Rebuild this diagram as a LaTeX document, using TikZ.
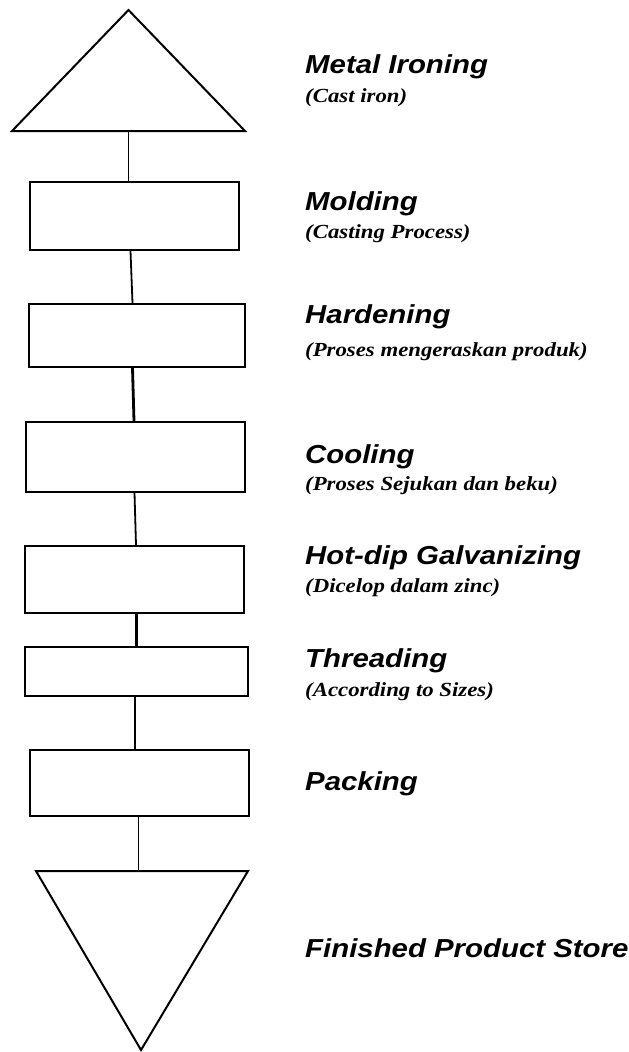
\documentclass[tikz,border=0pt]{standalone}
\usepackage{fontspec}
\setmainfont{Liberation Serif}
\newfontfamily\namefont[FakeStretch=1.13]{Liberation Sans}
\newfontfamily\notefont[FakeStretch=1.14]{Liberation Serif}
\usetikzlibrary{positioning}

\tikzset{
  stepbox/.style={draw, line width=2pt, inner sep=0pt},
  link/.style={line width=1.8pt},
  heavylink/.style={line width=2.8pt},
  stepname/.style={anchor=base west, inner sep=0pt, font=\namefont\bfseries\itshape\fontsize{26}{29}\selectfont},
  stepnote/.style={anchor=base west, inner sep=0pt, font=\notefont\bfseries\itshape\fontsize{20}{23}\selectfont}
}

\begin{document}
\begin{tikzpicture}[x=1pt,y=-1pt]
  \useasboundingbox (0,0) rectangle (629,1052);

  % raw material store (triangle up)
  \draw[line width=2pt] (12,131) -- (128.5,10) -- (245,131) -- cycle;
  \coordinate (iron) at (128.5,131);

  % process boxes
  \node[stepbox, minimum width=209pt, minimum height=68pt] (molding)   at (134.5,216) {};
  \node[stepbox, minimum width=216pt, minimum height=63pt] (hardening) at (137,335.5) {};
  \node[stepbox, minimum width=219pt, minimum height=70pt] (cooling)   at (135.5,457) {};
  \node[stepbox, minimum width=219pt, minimum height=67pt] (galv)      at (134.5,579.5) {};
  \node[stepbox, minimum width=223pt, minimum height=49pt] (threading) at (136.5,671.5) {};
  \node[stepbox, minimum width=219pt, minimum height=66pt] (packing)   at (139.5,783) {};

  % finished store (triangle down)
  \draw[line width=2pt] (36,871) -- (248,871) -- (141,1050) -- cycle;
  \coordinate (store) at (138.5,871);

  % connectors
  \draw[link] (iron) -- (iron |- molding.north);
  \draw[link] ([xshift=-4pt]molding.south) -- ([xshift=-4.5pt]hardening.north);
  \draw[heavylink] ([xshift=-4.5pt]hardening.south) -- ([xshift=-1.5pt]cooling.north);
  \draw[link] ([xshift=-1pt]cooling.south) -- ([xshift=1.5pt]galv.north);
  \draw[heavylink] ([xshift=2pt]galv.south) -- (threading.north);
  \draw[heavylink] ([xshift=-1.5pt]threading.south) -- ([xshift=-4.5pt]packing.north);
  \draw[link] ([xshift=-1pt]packing.south) -- (store);

  % labels
  \node[stepname] (iron-t) at (305,73) {Metal Ironing};
  \node[stepnote] (iron-s) at (305,102) {(Cast iron)};
  \node[stepname] (molding-t) at (305,210) {Molding};
  \node[stepnote] (molding-s) at (305,238) {(Casting Process)};
  \node[stepname] (hardening-t) at (305,323) {Hardening};
  \node[stepnote] (hardening-s) at (305,356) {(Proses mengeraskan produk)};
  \node[stepname] (cooling-t) at (305,463) {Cooling};
  \node[stepnote] (cooling-s) at (305,490) {(Proses Sejukan dan beku)};
  \node[stepname] (galv-t) at (305,564) {Hot-dip Galvanizing};
  \node[stepnote] (galv-s) at (305,592) {(Dicelop dalam zinc)};
  \node[stepname] (threading-t) at (305,667) {Threading};
  \node[stepnote] (threading-s) at (305,696) {(According to Sizes)};
  \node[stepname] (packing-t) at (305,790) {Packing};
  \node[stepname] (store-t) at (305,957) {Finished Product Store};
\end{tikzpicture}
\end{document}
